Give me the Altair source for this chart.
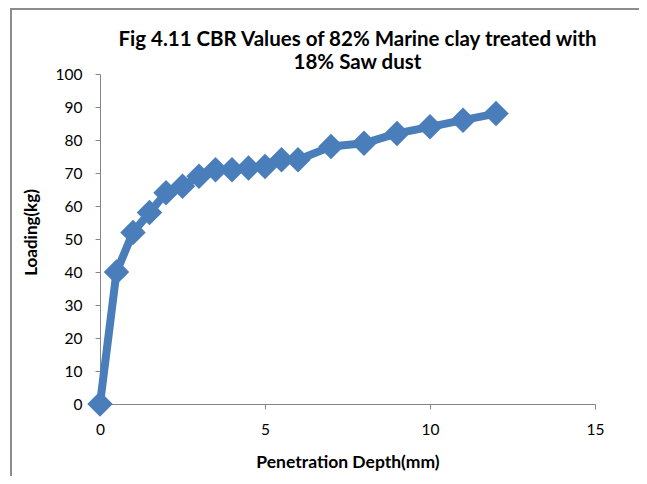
import altair as alt
import pandas as pd

depth = [0, 0.5, 1, 1.5, 2, 2.5, 3, 3.5, 4, 4.5, 5, 5.5, 6, 7, 8, 9, 10, 11, 12]
loading = [0, 40, 52, 58, 64, 66, 69, 71, 71, 71.5, 72, 74, 74, 78, 79, 82, 84, 86, 88]

df = pd.DataFrame({"depth": depth, "loading": loading})

FONT = "Lato"
BLUE = "#4a7ebb"

x = alt.X("depth:Q", scale=alt.Scale(domain=[0, 15], nice=False),
          axis=alt.Axis(values=[0, 5, 10, 15], title="Penetration Depth(mm)", grid=False,
                        domainColor="#868686", tickColor="#868686", tickSize=5,
                        labelFlush=False,
                        labelFontSize=15.5, labelColor="#000", labelFont=FONT, labelPadding=13,
                        titleFont=FONT, titleFontSize=17.5, titleFontWeight="bold",
                        titleColor="#000", titlePadding=16))
y = alt.Y("loading:Q", scale=alt.Scale(domain=[0, 100], nice=False),
          axis=alt.Axis(values=list(range(0, 101, 10)), title="Loading(kg)", grid=False,
                        domainColor="#868686", tickColor="#868686", tickSize=5,
                        labelFlush=False,
                        labelFontSize=15.5, labelColor="#000", labelFont=FONT, labelPadding=13,
                        titleFont=FONT, titleFontSize=17, titleFontWeight="bold",
                        titleColor="#000", titlePadding=15, titleY=158))

line = alt.Chart(df).mark_line(color=BLUE, strokeWidth=8, strokeJoin="round", clip=False).encode(x=x, y=y)
pts = alt.Chart(df).mark_point(shape="diamond", filled=True, size=650, color=BLUE, opacity=1, clip=False).encode(x=x, y=y)

frame = alt.Chart(df).mark_rect(filled=False, stroke="#8c8c8c", strokeWidth=1.5, clip=False).encode(
    x=alt.value(-89), x2=alt.value(545), y=alt.value(-65), y2=alt.value(490))

chart = alt.layer(frame, line, pts).properties(
    width=495, height=330,
    autosize=alt.AutoSizeParams(type="none"),
    padding={"left": 92, "top": 66, "right": 44, "bottom": 72},
    title=alt.TitleParams(["Fig 4.11 CBR Values of 82% Marine clay treated with", "18% Saw dust"],
                          font=FONT, fontSize=20.5, fontWeight="bold", color="#000",
                          anchor="middle", offset=0, lineHeight=23, dx=10, dy=65),
).configure_view(stroke=None)

chart.save("out.html", embed_options={"renderer": "svg", "actions": False})
